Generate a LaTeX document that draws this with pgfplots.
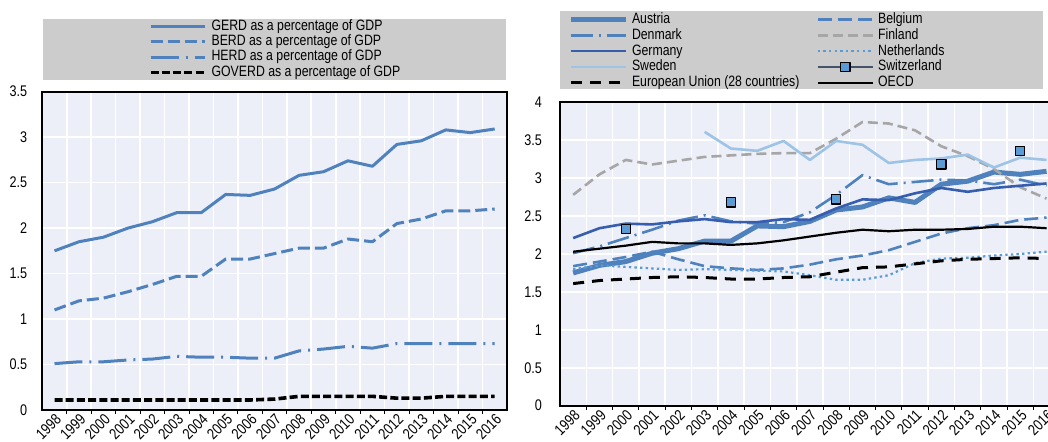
\documentclass[border=0pt]{standalone}
\usepackage{fontspec}
\setmainfont{Liberation Sans}[FakeStretch=0.82]
\usepackage{pgfplots}
\usepackage{pgfplotstable}
\pgfplotsset{compat=1.18}

\definecolor{plotbg}{RGB}{236,239,247}
\definecolor{legbg}{RGB}{204,204,204}
\definecolor{mblue}{RGB}{79,129,189}
\definecolor{dblue}{RGB}{55,93,174}
\definecolor{lblue}{RGB}{157,195,230}
\definecolor{nblue}{RGB}{91,155,213}
\definecolor{fgrey}{RGB}{166,166,166}
\definecolor{chline}{RGB}{68,84,106}

\newcommand\tickfont{\fontsize{7.7}{9}\selectfont}
\newcommand\legfont{\fontsize{7.5}{9}\selectfont}

% Austria, R&D intensity by performing sector
\pgfplotstableread{
x gerd berd herd goverd
0  1.75 1.10 0.51 0.11
1  1.85 1.20 0.53 0.11
2  1.90 1.23 0.53 0.11
3  2.00 1.30 0.55 0.11
4  2.07 1.38 0.56 0.11
5  2.17 1.47 0.59 0.11
6  2.17 1.47 0.58 0.11
7  2.37 1.66 0.58 0.11
8  2.36 1.66 0.57 0.11
9  2.43 1.72 0.57 0.12
10 2.58 1.78 0.65 0.15
11 2.62 1.78 0.67 0.15
12 2.74 1.88 0.70 0.15
13 2.68 1.85 0.68 0.15
14 2.92 2.05 0.73 0.13
15 2.96 2.10 0.73 0.13
16 3.08 2.19 0.73 0.15
17 3.05 2.19 0.73 0.15
18 3.09 2.21 0.73 0.15
}\secdata

% GERD as % of GDP, selected economies
\pgfplotstableread{
x  aut  bel  dnk  fin  deu  nld  swe  che  eu   oecd
0  1.75 1.84 2.01 2.78 2.21 1.80 nan  nan  1.61 2.03
1  1.85 1.90 2.10 3.05 2.34 1.85 nan  nan  1.65 2.07
2  1.90 1.96 2.21 3.24 2.40 1.83 nan  2.33 1.67 2.11
3  2.01 2.03 2.32 3.18 2.39 1.81 nan  nan  1.69 2.16
4  2.07 1.93 2.44 3.23 2.43 1.79 nan  nan  1.70 2.14
5  2.17 1.84 2.51 3.28 2.46 1.80 3.61 nan  1.69 2.14
6  2.17 1.81 2.43 3.30 2.42 1.79 3.39 2.68 1.67 2.12
7  2.37 1.79 2.40 3.32 2.42 1.78 3.36 nan  1.67 2.14
8  2.36 1.81 2.42 3.33 2.46 1.77 3.49 nan  1.69 2.18
9  2.43 1.86 2.55 3.33 2.45 1.72 3.24 nan  1.70 2.23
10 2.58 1.93 2.78 3.52 2.60 1.66 3.49 2.72 1.76 2.28
11 2.62 1.98 3.04 3.74 2.72 1.66 3.44 nan  1.82 2.32
12 2.74 2.05 2.92 3.72 2.71 1.72 3.20 nan  1.83 2.30
13 2.68 2.16 2.95 3.63 2.80 1.88 3.24 nan  1.87 2.32
14 2.92 2.27 2.98 3.42 2.87 1.94 3.26 3.18 1.91 2.32
15 2.96 2.34 2.97 3.29 2.82 1.95 3.31 nan  1.93 2.33
16 3.08 2.38 2.92 3.12 2.87 1.98 3.14 nan  1.94 2.36
17 3.05 2.45 2.98 2.88 2.90 2.00 3.27 3.36 1.95 2.36
18 3.09 2.48 2.90 2.73 2.93 2.03 3.24 nan  1.94 2.34
}\gdpdata

\pgfplotsset{
  oecd/.style={
    scale only axis,
    xmin=-0.5, xmax=18.5,
    xtick={0,...,18},
    xticklabels={1998,1999,2000,2001,2002,2003,2004,2005,2006,2007,2008,2009,2010,2011,2012,2013,2014,2015,2016},
    minor xtick={0.5,1.5,...,17.5},
    xminorgrids, ymajorgrids,
    grid style={white, line width=0.8pt},
    minor grid style={white, line width=0.8pt},
    major tick length=0pt, minor tick length=2pt,
    tick pos=left, tick align=outside,
    minor tick style={black, line width=0.5pt},
    axis line style={black, line width=0.9pt},
    axis background/.style={fill=plotbg},
    /pgf/number format/assume math mode=true,
    tick label style={font=\tickfont},
    xticklabel style={rotate=45, anchor=north east, inner sep=1pt},
    unbounded coords=jump,
    legend cell align=left,
    every axis plot/.append style={line join=round},
  },
}

\begin{document}
\begin{tikzpicture}
\fill[legbg] (21.5pt,181pt) rectangle (253pt,211.5pt);
\fill[legbg] (280pt,176.5pt) rectangle (521.5pt,215.5pt);

\begin{axis}[oecd,
  at={(21.15pt,16pt)}, anchor=south west,
  width=232.3pt, height=159.15pt,
  ymin=0, ymax=3.5, ytick={0,0.5,1,1.5,2,2.5,3,3.5},
  yticklabel style={xshift=-4pt},
  legend image code/.code={\draw[#1] (0pt,0pt) -- (27pt,0pt);},
  legend style={at={(0.2296,1.2265)}, anchor=north west, draw=none, fill=none,
    inner sep=0pt, outer sep=0pt, row sep=0.75pt, column sep=2.5pt, font=\legfont,
    nodes={inner sep=0pt, text height=5.4pt, text depth=1.5pt}},
]
\addplot[mblue, line width=1.5pt] table[x=x, y=gerd] {\secdata};
\addlegendentry{GERD as a percentage of GDP}
\addplot[mblue, line width=1.5pt, dash pattern=on 6pt off 2.5pt] table[x=x, y=berd] {\secdata};
\addlegendentry{BERD as a percentage of GDP}
\addplot[mblue, line width=1.5pt, dash pattern=on 14pt off 3.5pt on 1pt off 3.5pt] table[x=x, y=herd] {\secdata};
\addlegendentry{HERD as a percentage of GDP}
\addplot[black, line width=1.8pt, dash pattern=on 4pt off 1.6pt] table[x=x, y=goverd] {\secdata};
\addlegendentry{GOVERD as a percentage of GDP}
\end{axis}

\begin{axis}[oecd,
  at={(280pt,18.15pt)}, anchor=south west,
  width=249.85pt, height=151.7pt,
  ymin=0, ymax=4, ytick={0,0.5,1,1.5,2,2.5,3,3.5,4},
  yticklabel style={xshift=-5.5pt},
  legend image code/.code={\draw[mark repeat=2, mark phase=2, #1] plot coordinates {(0pt,0pt) (13.75pt,0pt) (27.5pt,0pt)};},
  legend columns=2,
  legend style={at={(0.016,1.2956)}, anchor=north west, draw=none, fill=none,
    inner sep=0pt, outer sep=0pt, row sep=1.0pt, column sep=2pt, font=\legfont,
    nodes={inner sep=0pt, text height=5.4pt, text depth=1.5pt},
    /tikz/every even column/.append style={column sep=8.5pt}},
]
\addplot[mblue, line width=2.5pt] table[x=x, y=aut] {\gdpdata};
\addlegendentry{Austria}
\addplot[mblue, line width=1.3pt, dash pattern=on 7pt off 3pt] table[x=x, y=bel] {\gdpdata};
\addlegendentry{Belgium}
\addplot[mblue, line width=1.3pt, dash pattern=on 11pt off 3pt on 1pt off 3pt] table[x=x, y=dnk] {\gdpdata};
\addlegendentry{Denmark}
\addplot[fgrey, line width=1.3pt, dash pattern=on 5pt off 2.5pt] table[x=x, y=fin] {\gdpdata};
\addlegendentry{Finland}
\addplot[dblue, line width=1.3pt] table[x=x, y=deu] {\gdpdata};
\addlegendentry{Germany}
\addplot[nblue, line width=1.1pt, dash pattern=on 1.2pt off 1.6pt] table[x=x, y=nld] {\gdpdata};
\addlegendentry{Netherlands}
\addplot[lblue, line width=1.3pt] table[x=x, y=swe] {\gdpdata};
\addlegendentry{Sweden}
\addplot[chline, line width=1.3pt, mark=square*, mark size=2.3pt,
  mark options={solid, fill=nblue, draw=black, line width=0.6pt}] table[x=x, y=che] {\gdpdata};
\addlegendentry{Switzerland}
\addplot[black, line width=1.5pt, dash pattern=on 5.5pt off 4pt] table[x=x, y=eu] {\gdpdata};
\addlegendentry{European Union (28 countries)}
\addplot[black, line width=1.1pt] table[x=x, y=oecd] {\gdpdata};
\addlegendentry{OECD}
\end{axis}

\pgfresetboundingbox
\path[use as bounding box] (0,0) rectangle (524pt,221pt);
\end{tikzpicture}
\end{document}
